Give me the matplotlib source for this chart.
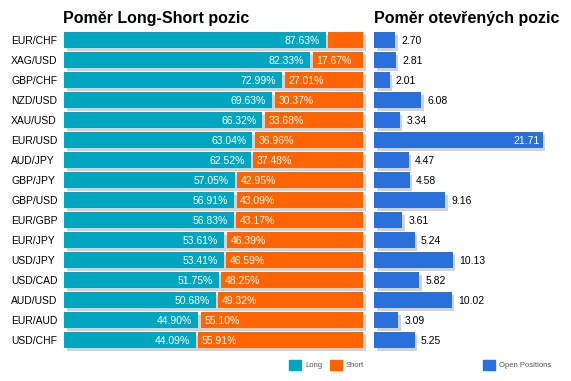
import matplotlib
matplotlib.use("Agg")
import matplotlib.pyplot as plt
from matplotlib.patches import Rectangle

plt.rcParams['font.family'] = ['Liberation Sans', 'DejaVu Sans']

# ---- data ---- #
pairs = ["EUR/CHF", "XAG/USD", "GBP/CHF", "NZD/USD", "XAU/USD", "EUR/USD",
         "AUD/JPY", "GBP/JPY", "GBP/USD", "EUR/GBP", "EUR/JPY", "USD/JPY",
         "USD/CAD", "AUD/USD", "EUR/AUD", "USD/CHF"]
long_pct = [87.63, 82.33, 72.99, 69.63, 66.32, 63.04, 62.52, 57.05,
            56.91, 56.83, 53.61, 53.41, 51.75, 50.68, 44.90, 44.09]
short_pct = [12.37, 17.67, 27.01, 30.37, 33.68, 36.96, 37.48, 42.95,
             43.09, 43.17, 46.39, 46.59, 48.25, 49.32, 55.10, 55.91]
open_pos = [2.70, 2.81, 2.01, 6.08, 3.34, 21.71, 4.47, 4.58,
            9.16, 3.61, 5.24, 10.13, 5.82, 10.02, 3.09, 5.25]

# ---- colours ---- #
c_long = "#00a6bf"
c_short = "#ff6400"
c_open = "#2a70da"
c_shadow = "#d2d2d2"

W, H = 571, 381
fig = plt.figure(figsize=(W / 100, H / 100), dpi=100)

def px_axes(x0, x1, y0, y1):
    return fig.add_axes([x0 / W, 1 - y1 / H, (x1 - x0) / W, (y1 - y0) / H])

ax1 = px_axes(64, 363, 30, 350)
ax2 = px_axes(374, 555, 30, 350)

y = list(range(len(pairs)))
bh = 0.8
sh_y = 0.15  # shadow offset down (3px)

# ---- levý graf ---- #
sx1 = 100 * 2.5 / 299
ax1.barh([v + sh_y for v in y], [100] * len(y), left=sx1, height=bh,
         color=c_shadow, clip_on=False, zorder=1)
ax1.barh(y, long_pct, height=bh, color=c_long, zorder=2)
ax1.barh(y, [s - 0.8 for s in short_pct], left=[l + 0.8 for l in long_pct],
         height=bh, color=c_short, zorder=2)
for i, (l, s) in enumerate(zip(long_pct, short_pct)):
    ax1.text(l - 2.0, i + 0.05, f"{l:.2f}%", ha="right", va="center",
             color="white", fontsize=7.5, zorder=3)
    if s > 15:
        ax1.text(l + 2.0, i + 0.05, f"{s:.2f}%", ha="left", va="center",
                 color="white", fontsize=7.5, zorder=3)
ax1.set_xlim(0, 100)
ax1.set_ylim(len(y) - 0.5, -0.5)
ax1.axis("off")
for i, p in enumerate(pairs):
    ax1.text(11 / W, i + 0.05, p, transform=ax1.get_yaxis_transform().__class__(
        fig.transFigure, ax1.transData), ha="left", va="center", fontsize=7.5,
        color="black")

# ---- pravý graf ---- #
xmax2 = 181 / 7.78
sx2 = xmax2 * 2.5 / 181
ax2.barh([v + sh_y for v in y], open_pos, left=sx2, height=bh,
         color=c_shadow, clip_on=False, zorder=1)
ax2.barh(y, open_pos, height=bh, color=c_open, zorder=2)
for i, v in enumerate(open_pos):
    if v > 15:
        ax2.text(v - 0.45, i + 0.05, f"{v:.2f}", ha="right", va="center",
                 color="white", fontsize=7.5, zorder=3)
    else:
        ax2.text(v + 0.8, i + 0.05, f"{v:.2f}", ha="left", va="center",
                 color="black", fontsize=7.5, zorder=3)
ax2.set_xlim(0, xmax2)
ax2.set_ylim(len(y) - 0.5, -0.5)
ax2.axis("off")

# ---- titulky ---- #
fig.text(63 / W, 1 - 22.5 / H, "Poměr Long-Short pozic", fontsize=11.5,
         fontweight="bold", va="baseline", ha="left")
fig.text(374 / W, 1 - 22.5 / H, "Poměr otevřených pozic", fontsize=11.5,
         fontweight="bold", va="baseline", ha="left")

# ---- legenda ---- #
for x0, col, lab in [(289, c_long, "Long"), (330, c_short, "Short"),
                     (483, c_open, "Open Positions")]:
    fig.add_artist(Rectangle((x0 / W, 1 - 370 / H), 12 / W, 10 / H,
                             transform=fig.transFigure, color=col))
    fig.text((x0 + 16) / W, 1 - 365.5 / H, lab, fontsize=5.5, color="#555555",
             va="center", ha="left")

plt.savefig("out.png", dpi=100)
